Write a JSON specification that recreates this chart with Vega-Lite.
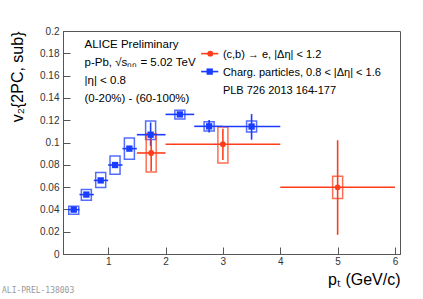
{
  "$schema": "https://vega.github.io/schema/vega-lite/v6.json",
  "width": 337,
  "height": 223,
  "autosize": {"type": "none"},
  "padding": {"left": 63, "top": 31, "right": 23, "bottom": 45},
  "background": "white",
  "config": {
    "view": {"stroke": "#555", "strokeWidth": 1},
    "font": "Liberation Sans",
    "axis": {"grid": false, "labelFont": "Liberation Sans", "labelFontSize": 10, "labelColor": "#333", "tickColor": "#555", "domainColor": "#555", "titleFont": "Liberation Sans", "titleFontWeight": "normal", "titleColor": "#000"}
  },
  "title": {"text": "ALI-PREL-138003", "orient": "bottom", "anchor": "start", "frame": "group", "font": "DejaVu Sans Mono", "fontSize": 8, "fontWeight": "normal", "color": "#999", "dx": -61, "offset": 0},
  "datasets": {
    "pts": [
      {"series": "Charg. particles, 0.8 < |Δη| < 1.6", "pt": 0.4, "v2": 0.0398, "ptLow": 0.3, "ptHigh": 0.5, "statLow": 0.0388, "statHigh": 0.0408, "sysLow": 0.0356, "sysHigh": 0.0428},
      {"series": "Charg. particles, 0.8 < |Δη| < 1.6", "pt": 0.62, "v2": 0.0533, "ptLow": 0.5, "ptHigh": 0.75, "statLow": 0.0521, "statHigh": 0.0545, "sysLow": 0.0482, "sysHigh": 0.0578},
      {"series": "Charg. particles, 0.8 < |Δη| < 1.6", "pt": 0.87, "v2": 0.066, "ptLow": 0.75, "ptHigh": 1.0, "statLow": 0.0648, "statHigh": 0.0672, "sysLow": 0.0596, "sysHigh": 0.073},
      {"series": "Charg. particles, 0.8 < |Δη| < 1.6", "pt": 1.12, "v2": 0.0798, "ptLow": 1.0, "ptHigh": 1.25, "statLow": 0.0783, "statHigh": 0.0813, "sysLow": 0.0715, "sysHigh": 0.0879},
      {"series": "Charg. particles, 0.8 < |Δη| < 1.6", "pt": 1.37, "v2": 0.0945, "ptLow": 1.25, "ptHigh": 1.5, "statLow": 0.0925, "statHigh": 0.0965, "sysLow": 0.085, "sysHigh": 0.104},
      {"series": "Charg. particles, 0.8 < |Δη| < 1.6", "pt": 1.74, "v2": 0.107, "ptLow": 1.5, "ptHigh": 2.0, "statLow": 0.097, "statHigh": 0.118, "sysLow": 0.1026, "sysHigh": 0.1193},
      {"series": "Charg. particles, 0.8 < |Δη| < 1.6", "pt": 2.25, "v2": 0.1252, "ptLow": 2.0, "ptHigh": 2.5, "statLow": 0.1232, "statHigh": 0.1272, "sysLow": 0.1211, "sysHigh": 0.1289},
      {"series": "Charg. particles, 0.8 < |Δη| < 1.6", "pt": 2.76, "v2": 0.1145, "ptLow": 2.5, "ptHigh": 3.0, "statLow": 0.109, "statHigh": 0.1201, "sysLow": 0.1103, "sysHigh": 0.1187},
      {"series": "Charg. particles, 0.8 < |Δη| < 1.6", "pt": 3.5, "v2": 0.1143, "ptLow": 3.0, "ptHigh": 4.0, "statLow": 0.1025, "statHigh": 0.1255, "sysLow": 0.1094, "sysHigh": 0.1193},
      {"series": "(c,b) → e, |Δη| < 1.2", "pt": 1.75, "v2": 0.0906, "ptLow": 1.5, "ptHigh": 2.0, "statLow": 0.0745, "statHigh": 0.1067, "sysLow": 0.0735, "sysHigh": 0.1078},
      {"series": "(c,b) → e, |Δη| < 1.2", "pt": 3.0, "v2": 0.0984, "ptLow": 2.0, "ptHigh": 4.0, "statLow": 0.0844, "statHigh": 0.1124, "sysLow": 0.0816, "sysHigh": 0.1139},
      {"series": "(c,b) → e, |Δη| < 1.2", "pt": 5.0, "v2": 0.0598, "ptLow": 4.0, "ptHigh": 6.0, "statLow": 0.0172, "statHigh": 0.102, "sysLow": 0.0497, "sysHigh": 0.0697}
    ]
  },
  "data": {"name": "pts"},
  "layer": [
    {
      "mark": {"type": "bar", "filled": false, "width": 10, "strokeWidth": 1.5, "strokeOpacity": 0.75},
      "encoding": {
        "x": {"field": "pt", "type": "quantitative", "scale": {"domain": [0.3, 6], "nice": false, "zero": false},
          "axis": {"values": [1, 2, 3, 4, 5, 6], "format": "~g", "tickSize": -7, "labelPadding": 9, "title": "pₜ (GeV/c)", "titleFontSize": 16, "titleAnchor": "end", "titlePadding": 5}},
        "y": {"field": "sysLow", "type": "quantitative", "scale": {"domain": [0, 0.2], "nice": false, "zero": false},
          "axis": {"values": [0, 0.02, 0.04, 0.06, 0.08, 0.1, 0.12, 0.14, 0.16, 0.18, 0.2], "format": "~g", "tickSize": -7, "labelPadding": 11, "title": "v₂{2PC, sub}", "titleFontSize": 16, "titleAnchor": "end", "titlePadding": 14}},
        "y2": {"field": "sysHigh"},
        "color": {"field": "series", "type": "nominal", "legend": null,
          "scale": {"domain": ["(c,b) → e, |Δη| < 1.2", "Charg. particles, 0.8 < |Δη| < 1.6"], "range": ["#ff3d1a", "#1a3cff"]}}
      }
    },
    {
      "mark": {"type": "rule", "strokeWidth": 1.6},
      "encoding": {
        "x": {"field": "ptLow", "type": "quantitative", "scale": {"domain": [0.3, 6], "nice": false, "zero": false},
          "axis": {"values": [1, 2, 3, 4, 5, 6], "format": "~g", "tickSize": -7, "labelPadding": 9, "title": "pₜ (GeV/c)", "titleFontSize": 16, "titleAnchor": "end", "titlePadding": 5}},
        "x2": {"field": "ptHigh"},
        "y": {"field": "v2", "type": "quantitative", "scale": {"domain": [0, 0.2], "nice": false, "zero": false},
          "axis": {"values": [0, 0.02, 0.04, 0.06, 0.08, 0.1, 0.12, 0.14, 0.16, 0.18, 0.2], "format": "~g", "tickSize": -7, "labelPadding": 11, "title": "v₂{2PC, sub}", "titleFontSize": 16, "titleAnchor": "end", "titlePadding": 14}},
        "color": {"field": "series", "type": "nominal", "legend": null}
      }
    },
    {
      "mark": {"type": "rule", "strokeWidth": 1.6},
      "encoding": {
        "x": {"field": "pt", "type": "quantitative", "scale": {"domain": [0.3, 6], "nice": false, "zero": false},
          "axis": {"values": [1, 2, 3, 4, 5, 6], "format": "~g", "tickSize": -7, "labelPadding": 9, "title": "pₜ (GeV/c)", "titleFontSize": 16, "titleAnchor": "end", "titlePadding": 5}},
        "y": {"field": "statLow", "type": "quantitative", "scale": {"domain": [0, 0.2], "nice": false, "zero": false},
          "axis": {"values": [0, 0.02, 0.04, 0.06, 0.08, 0.1, 0.12, 0.14, 0.16, 0.18, 0.2], "format": "~g", "tickSize": -7, "labelPadding": 11, "title": "v₂{2PC, sub}", "titleFontSize": 16, "titleAnchor": "end", "titlePadding": 14}},
        "y2": {"field": "statHigh"},
        "color": {"field": "series", "type": "nominal", "legend": null}
      }
    },
    {
      "transform": [{"filter": "indexof(datum.series, 'Charg') == 0"}],
      "mark": {"type": "point", "shape": "square", "filled": true, "size": 40, "opacity": 1},
      "encoding": {
        "x": {"field": "pt", "type": "quantitative", "scale": {"domain": [0.3, 6], "nice": false, "zero": false},
          "axis": {"values": [1, 2, 3, 4, 5, 6], "format": "~g", "tickSize": -7, "labelPadding": 9, "title": "pₜ (GeV/c)", "titleFontSize": 16, "titleAnchor": "end", "titlePadding": 5}},
        "y": {"field": "v2", "type": "quantitative", "scale": {"domain": [0, 0.2], "nice": false, "zero": false},
          "axis": {"values": [0, 0.02, 0.04, 0.06, 0.08, 0.1, 0.12, 0.14, 0.16, 0.18, 0.2], "format": "~g", "tickSize": -7, "labelPadding": 11, "title": "v₂{2PC, sub}", "titleFontSize": 16, "titleAnchor": "end", "titlePadding": 14}},
        "color": {"field": "series", "type": "nominal", "legend": null}
      }
    },
    {
      "transform": [{"filter": "indexof(datum.series, '(c,b)') == 0"}],
      "mark": {"type": "point", "shape": "circle", "filled": true, "size": 34, "opacity": 1},
      "encoding": {
        "x": {"field": "pt", "type": "quantitative", "scale": {"domain": [0.3, 6], "nice": false, "zero": false},
          "axis": {"values": [1, 2, 3, 4, 5, 6], "format": "~g", "tickSize": -7, "labelPadding": 9, "title": "pₜ (GeV/c)", "titleFontSize": 16, "titleAnchor": "end", "titlePadding": 5}},
        "y": {"field": "v2", "type": "quantitative", "scale": {"domain": [0, 0.2], "nice": false, "zero": false},
          "axis": {"values": [0, 0.02, 0.04, 0.06, 0.08, 0.1, 0.12, 0.14, 0.16, 0.18, 0.2], "format": "~g", "tickSize": -7, "labelPadding": 11, "title": "v₂{2PC, sub}", "titleFontSize": 16, "titleAnchor": "end", "titlePadding": 14}},
        "color": {"field": "series", "type": "nominal", "legend": null}
      }
    },
    {
      "data": {"values": [{"note": "annotation"}]},
      "mark": {"type": "text", "align": "left", "baseline": "alphabetic", "fontSize": 11.5, "lineHeight": 18, "font": "Liberation Sans", "color": "#000",
        "text": ["ALICE Preliminary", "p-Pb, √sₙₙ = 5.02 TeV", "|η| < 0.8", "(0-20%) - (60-100%)"]},
      "encoding": {
        "x": {"datum": 0.588, "type": "quantitative", "scale": {"domain": [0.3, 6], "nice": false, "zero": false},
          "axis": {"values": [1, 2, 3, 4, 5, 6], "format": "~g", "tickSize": -7, "labelPadding": 9, "title": "pₜ (GeV/c)", "titleFontSize": 16, "titleAnchor": "end", "titlePadding": 5}},
        "y": {"datum": 0.1845, "type": "quantitative", "scale": {"domain": [0, 0.2], "nice": false, "zero": false},
          "axis": {"values": [0, 0.02, 0.04, 0.06, 0.08, 0.1, 0.12, 0.14, 0.16, 0.18, 0.2], "format": "~g", "tickSize": -7, "labelPadding": 11, "title": "v₂{2PC, sub}", "titleFontSize": 16, "titleAnchor": "end", "titlePadding": 14}}
      }
    },
    {
      "data": {"values": [{"note": "legend"}]},
      "mark": {"type": "text", "align": "left", "baseline": "alphabetic", "fontSize": 11, "lineHeight": 18, "font": "Liberation Sans", "color": "#000",
        "text": ["(c,b) → e, |Δη| < 1.2", "Charg. particles, 0.8 < |Δη| < 1.6", "PLB 726 2013 164-177"]},
      "encoding": {
        "x": {"datum": 3.0, "type": "quantitative", "scale": {"domain": [0.3, 6], "nice": false, "zero": false},
          "axis": {"values": [1, 2, 3, 4, 5, 6], "format": "~g", "tickSize": -7, "labelPadding": 9, "title": "pₜ (GeV/c)", "titleFontSize": 16, "titleAnchor": "end", "titlePadding": 5}},
        "y": {"datum": 0.1762, "type": "quantitative", "scale": {"domain": [0, 0.2], "nice": false, "zero": false},
          "axis": {"values": [0, 0.02, 0.04, 0.06, 0.08, 0.1, 0.12, 0.14, 0.16, 0.18, 0.2], "format": "~g", "tickSize": -7, "labelPadding": 11, "title": "v₂{2PC, sub}", "titleFontSize": 16, "titleAnchor": "end", "titlePadding": 14}}
      }
    },
    {
      "data": {"values": [{"note": "legend"}]},
      "mark": {"type": "rule", "strokeWidth": 1.6, "color": "#ff3d1a"},
      "encoding": {
        "x": {"datum": 2.62, "type": "quantitative", "scale": {"domain": [0.3, 6], "nice": false, "zero": false},
          "axis": {"values": [1, 2, 3, 4, 5, 6], "format": "~g", "tickSize": -7, "labelPadding": 9, "title": "pₜ (GeV/c)", "titleFontSize": 16, "titleAnchor": "end", "titlePadding": 5}},
        "x2": {"datum": 2.92},
        "y": {"datum": 0.1797, "type": "quantitative", "scale": {"domain": [0, 0.2], "nice": false, "zero": false},
          "axis": {"values": [0, 0.02, 0.04, 0.06, 0.08, 0.1, 0.12, 0.14, 0.16, 0.18, 0.2], "format": "~g", "tickSize": -7, "labelPadding": 11, "title": "v₂{2PC, sub}", "titleFontSize": 16, "titleAnchor": "end", "titlePadding": 14}}
      }
    },
    {
      "data": {"values": [{"note": "legend"}]},
      "mark": {"type": "point", "shape": "circle", "filled": true, "size": 34, "opacity": 1, "color": "#ff3d1a"},
      "encoding": {
        "x": {"datum": 2.78, "type": "quantitative", "scale": {"domain": [0.3, 6], "nice": false, "zero": false},
          "axis": {"values": [1, 2, 3, 4, 5, 6], "format": "~g", "tickSize": -7, "labelPadding": 9, "title": "pₜ (GeV/c)", "titleFontSize": 16, "titleAnchor": "end", "titlePadding": 5}},
        "y": {"datum": 0.1797, "type": "quantitative", "scale": {"domain": [0, 0.2], "nice": false, "zero": false},
          "axis": {"values": [0, 0.02, 0.04, 0.06, 0.08, 0.1, 0.12, 0.14, 0.16, 0.18, 0.2], "format": "~g", "tickSize": -7, "labelPadding": 11, "title": "v₂{2PC, sub}", "titleFontSize": 16, "titleAnchor": "end", "titlePadding": 14}}
      }
    },
    {
      "data": {"values": [{"note": "legend"}]},
      "mark": {"type": "rule", "strokeWidth": 1.6, "color": "#1a3cff"},
      "encoding": {
        "x": {"datum": 2.62, "type": "quantitative", "scale": {"domain": [0.3, 6], "nice": false, "zero": false},
          "axis": {"values": [1, 2, 3, 4, 5, 6], "format": "~g", "tickSize": -7, "labelPadding": 9, "title": "pₜ (GeV/c)", "titleFontSize": 16, "titleAnchor": "end", "titlePadding": 5}},
        "x2": {"datum": 2.92},
        "y": {"datum": 0.1636, "type": "quantitative", "scale": {"domain": [0, 0.2], "nice": false, "zero": false},
          "axis": {"values": [0, 0.02, 0.04, 0.06, 0.08, 0.1, 0.12, 0.14, 0.16, 0.18, 0.2], "format": "~g", "tickSize": -7, "labelPadding": 11, "title": "v₂{2PC, sub}", "titleFontSize": 16, "titleAnchor": "end", "titlePadding": 14}}
      }
    },
    {
      "data": {"values": [{"note": "legend"}]},
      "mark": {"type": "point", "shape": "square", "filled": true, "size": 40, "opacity": 1, "color": "#1a3cff"},
      "encoding": {
        "x": {"datum": 2.77, "type": "quantitative", "scale": {"domain": [0.3, 6], "nice": false, "zero": false},
          "axis": {"values": [1, 2, 3, 4, 5, 6], "format": "~g", "tickSize": -7, "labelPadding": 9, "title": "pₜ (GeV/c)", "titleFontSize": 16, "titleAnchor": "end", "titlePadding": 5}},
        "y": {"datum": 0.1636, "type": "quantitative", "scale": {"domain": [0, 0.2], "nice": false, "zero": false},
          "axis": {"values": [0, 0.02, 0.04, 0.06, 0.08, 0.1, 0.12, 0.14, 0.16, 0.18, 0.2], "format": "~g", "tickSize": -7, "labelPadding": 11, "title": "v₂{2PC, sub}", "titleFontSize": 16, "titleAnchor": "end", "titlePadding": 14}}
      }
    }
  ]
}
